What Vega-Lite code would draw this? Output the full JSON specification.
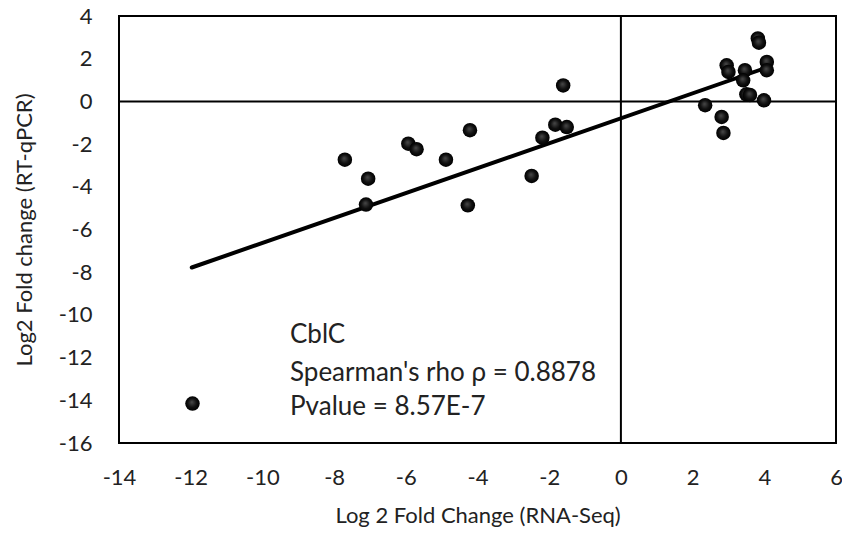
{
  "$schema": "https://vega.github.io/schema/vega-lite/v6.json",
  "width": 717,
  "height": 427,
  "autosize": {"type": "none"},
  "padding": {"left": 119, "top": 16, "right": 6, "bottom": 97},
  "background": "white",
  "config": {
    "view": {"stroke": "black", "strokeWidth": 2},
    "font": "Lato",
    "axis": {"grid": false, "ticks": false, "domain": false, "labelFont": "Lato", "titleFont": "Lato", "labelColor": "#222", "titleColor": "#222", "labelFontSize": 22, "titleFontSize": 22, "titleFontWeight": "normal", "labelExpr": "'' + datum.value"}
  },
  "datasets": {
    "points": [
      {"rna": -11.95, "qpcr": -14.15},
      {"rna": -7.70, "qpcr": -2.73},
      {"rna": -7.05, "qpcr": -3.62},
      {"rna": -7.11, "qpcr": -4.83},
      {"rna": -5.93, "qpcr": -1.98},
      {"rna": -5.70, "qpcr": -2.24},
      {"rna": -4.88, "qpcr": -2.73},
      {"rna": -4.21, "qpcr": -1.35},
      {"rna": -4.27, "qpcr": -4.87},
      {"rna": -2.49, "qpcr": -3.49},
      {"rna": -2.19, "qpcr": -1.70},
      {"rna": -1.83, "qpcr": -1.09},
      {"rna": -1.51, "qpcr": -1.20},
      {"rna": -1.61, "qpcr": 0.75},
      {"rna": 2.35, "qpcr": -0.18},
      {"rna": 2.81, "qpcr": -0.73},
      {"rna": 2.86, "qpcr": -1.48},
      {"rna": 2.95, "qpcr": 1.69},
      {"rna": 3.00, "qpcr": 1.38},
      {"rna": 3.46, "qpcr": 1.46},
      {"rna": 3.41, "qpcr": 0.99},
      {"rna": 3.50, "qpcr": 0.33},
      {"rna": 3.60, "qpcr": 0.30},
      {"rna": 3.99, "qpcr": 0.05},
      {"rna": 4.07, "qpcr": 1.85},
      {"rna": 4.07, "qpcr": 1.46},
      {"rna": 3.82, "qpcr": 2.95},
      {"rna": 3.85, "qpcr": 2.75}
    ],
    "trend": [
      {"rna": -11.97, "qpcr": -7.78},
      {"rna": 4.11, "qpcr": 1.61}
    ],
    "notes": [
      {"rna": -9.23, "qpcr": -11.33, "label": "CblC"},
      {"rna": -9.23, "qpcr": -13.11, "label": "Spearman's rho ρ = 0.8878"},
      {"rna": -9.23, "qpcr": -14.70, "label": "Pvalue = 8.57E-7"}
    ]
  },
  "layer": [
    {
      "data": {"values": [{"v": 0}]},
      "mark": {"type": "rule", "color": "black", "strokeWidth": 2},
      "encoding": {"x": {"field": "v", "type": "quantitative", "scale": {"domain": [-14, 6], "nice": false}}}
    },
    {
      "data": {"values": [{"v": 0}]},
      "mark": {"type": "rule", "color": "black", "strokeWidth": 2},
      "encoding": {"y": {"field": "v", "type": "quantitative", "scale": {"domain": [-16, 4], "nice": false}}}
    },
    {
      "data": {"name": "trend"},
      "mark": {"type": "line", "color": "black", "strokeWidth": 4, "strokeCap": "round"},
      "encoding": {
        "x": {"field": "rna", "type": "quantitative"},
        "y": {"field": "qpcr", "type": "quantitative"}
      }
    },
    {
      "data": {"name": "points"},
      "mark": {"type": "point", "filled": true, "size": 210, "opacity": 1, "strokeWidth": 0,
        "fill": {"gradient": "radial", "x1": 0.45, "y1": 0.4, "r1": 0, "x2": 0.5, "y2": 0.5, "r2": 0.5,
          "stops": [{"offset": 0, "color": "#4a4a4a"}, {"offset": 0.6, "color": "#111111"}, {"offset": 1, "color": "#000000"}]}},
      "encoding": {
        "x": {"field": "rna", "type": "quantitative", "title": "Log 2 Fold Change (RNA-Seq)",
          "scale": {"domain": [-14, 6], "nice": false},
          "axis": {"values": [-14, -12, -10, -8, -6, -4, -2, 0, 2, 4, 6], "labelPadding": 24, "titlePadding": 17, "labelFlush": false}},
        "y": {"field": "qpcr", "type": "quantitative", "title": "Log2 Fold change (RT-qPCR)",
          "scale": {"domain": [-16, 4], "nice": false},
          "axis": {"values": [-16, -14, -12, -10, -8, -6, -4, -2, 0, 2, 4], "labelPadding": 27, "titlePadding": 22, "labelFlush": false}}
      }
    },
    {
      "data": {"name": "notes"},
      "mark": {"type": "text", "align": "left", "baseline": "alphabetic", "fontSize": 26, "font": "Lato", "color": "#222"},
      "encoding": {
        "x": {"field": "rna", "type": "quantitative"},
        "y": {"field": "qpcr", "type": "quantitative"},
        "text": {"field": "label"}
      }
    }
  ]
}
